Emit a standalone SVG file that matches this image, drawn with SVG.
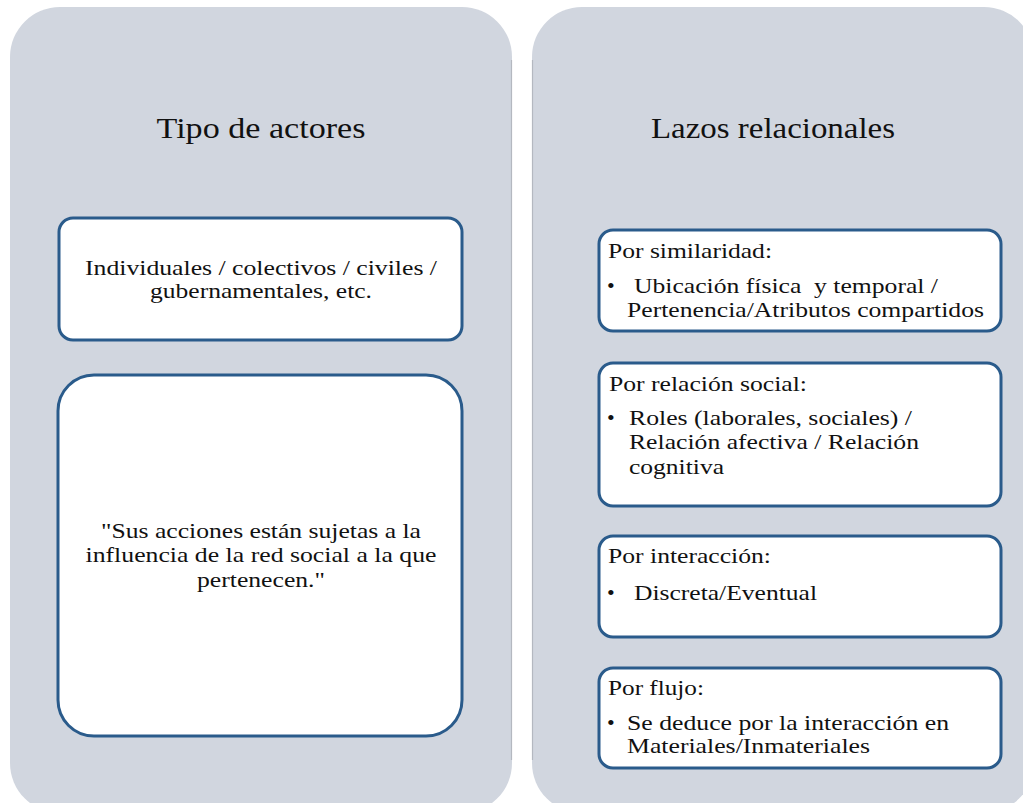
<svg xmlns="http://www.w3.org/2000/svg" width="1023" height="803" viewBox="0 0 1023 803">
<style>
.panel{fill:#d1d6df}
.edge{stroke:#b4b8c0;stroke-width:1.2}
.box{fill:#ffffff;stroke:#2a5b8b;stroke-width:3}
.t{fill:#111111;font-size:22px}
.title{font-size:30px}
.c{text-anchor:middle}
</style>
<rect width="1023" height="803" fill="#ffffff"/>
<g font-family="Liberation Serif, Times New Roman, serif">
<g id="panel-left">
<rect class="panel" x="10" y="7" width="502" height="806" rx="50"/>
<line class="edge" x1="511.5" y1="60" x2="511.5" y2="760"/>
<text class="t title c" x="261" y="138" textLength="209" lengthAdjust="spacingAndGlyphs">Tipo de actores</text>
</g>
<g id="panel-right">
<rect class="panel" x="532" y="7" width="502" height="806" rx="50"/>
<line class="edge" x1="532.5" y1="60" x2="532.5" y2="760"/>
<text class="t title c" x="773" y="138" textLength="244" lengthAdjust="spacingAndGlyphs">Lazos relacionales</text>
</g>
<g id="node-individuales">
<rect class="box" x="59" y="218" width="403" height="122" rx="14"/>
<text class="t c" x="261" y="275" textLength="352" lengthAdjust="spacingAndGlyphs">Individuales / colectivos / civiles /</text>
<text class="t c" x="261" y="298" textLength="222" lengthAdjust="spacingAndGlyphs">gubernamentales, etc.</text>
</g>
<g id="node-cita">
<rect class="box" x="58" y="375" width="404" height="361" rx="36"/>
<text class="t c" x="261" y="538" textLength="320" lengthAdjust="spacingAndGlyphs">"Sus acciones están sujetas a la</text>
<text class="t c" x="261" y="562" textLength="351" lengthAdjust="spacingAndGlyphs">influencia de la red social a la que</text>
<text class="t c" x="261" y="587" textLength="128" lengthAdjust="spacingAndGlyphs">pertenecen."</text>
</g>
<g id="node-similaridad">
<rect class="box" x="599" y="230" width="402" height="101" rx="14"/>
<text class="t" x="608" y="258" textLength="164" lengthAdjust="spacingAndGlyphs">Por similaridad:</text>
<text class="t" x="607" y="293">•</text>
<text class="t" x="634" y="293" xml:space="preserve" textLength="304" lengthAdjust="spacingAndGlyphs">Ubicación física  y temporal /</text>
<text class="t" x="627" y="317" textLength="357" lengthAdjust="spacingAndGlyphs">Pertenencia/Atributos compartidos</text>
</g>
<g id="node-relacion-social">
<rect class="box" x="599" y="363" width="402" height="143" rx="14"/>
<text class="t" x="609" y="391" textLength="198" lengthAdjust="spacingAndGlyphs">Por relación social:</text>
<text class="t" x="607" y="425">•</text>
<text class="t" x="629" y="425" textLength="283" lengthAdjust="spacingAndGlyphs">Roles (laborales, sociales) /</text>
<text class="t" x="629" y="449" textLength="290" lengthAdjust="spacingAndGlyphs">Relación afectiva / Relación</text>
<text class="t" x="629" y="474" textLength="95" lengthAdjust="spacingAndGlyphs">cognitiva</text>
</g>
<g id="node-interaccion">
<rect class="box" x="599" y="536" width="402" height="101" rx="14"/>
<text class="t" x="608" y="563" textLength="163" lengthAdjust="spacingAndGlyphs">Por interacción:</text>
<text class="t" x="607" y="600">•</text>
<text class="t" x="634" y="600" textLength="183" lengthAdjust="spacingAndGlyphs">Discreta/Eventual</text>
</g>
<g id="node-flujo">
<rect class="box" x="599" y="668" width="402" height="100" rx="14"/>
<text class="t" x="608" y="695" textLength="96" lengthAdjust="spacingAndGlyphs">Por flujo:</text>
<text class="t" x="607" y="730">•</text>
<text class="t" x="627" y="730" textLength="322" lengthAdjust="spacingAndGlyphs">Se deduce por la interacción en</text>
<text class="t" x="627" y="753" textLength="243" lengthAdjust="spacingAndGlyphs">Materiales/Inmateriales</text>
</g>
</g>
<g id="connectors"></g>
</svg>
